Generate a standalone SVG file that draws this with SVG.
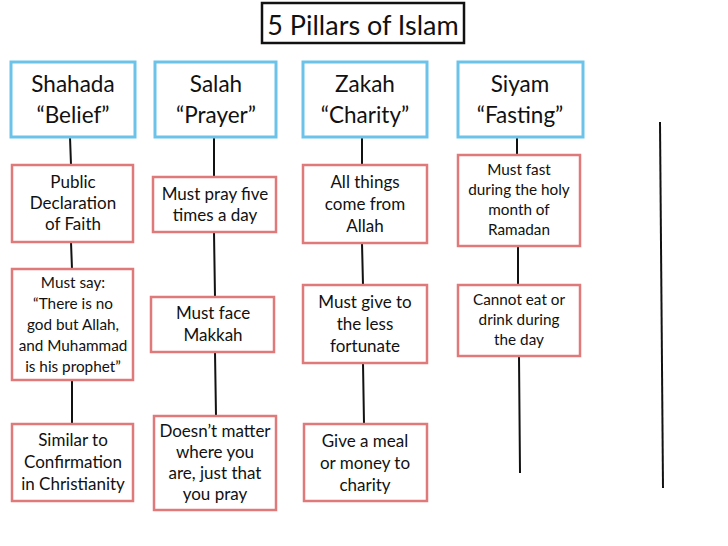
<svg xmlns="http://www.w3.org/2000/svg" width="728" height="546" viewBox="0 0 728 546">
<style>
.t{font-family:Lato,"Open Sans","Liberation Sans",sans-serif;fill:#111;text-anchor:middle}
.h{font-size:22.5px}
.b{font-size:17px}
.s{font-size:15.3px}
.blue{fill:#fff;stroke:#6cc3ea;stroke-width:3}
.red{fill:#fff;stroke:#e07a7a;stroke-width:2.5}
.ln{stroke:#111;stroke-width:2;fill:none}
</style>
<rect width="728" height="546" fill="#fff"/>
<g id="connectors">
<path class="ln" d="M70 137 L71 165 M71 242 L72 269 M72 380 L72 424"/>
<path class="ln" d="M214 137 L214 177 M214 232 L215 297 M215 352 L216 416"/>
<path class="ln" d="M362 137 L362 165 M362 243 L363 285 M363 363 L364 424"/>
<path class="ln" d="M517 137 L517 155 M518 246 L518 285 M519 356 L520 473"/>
<path class="ln" d="M660 122 L663 488"/>
</g>
<g id="title">
<rect x="262" y="3" width="202" height="40" fill="#fff" stroke="#111" stroke-width="2.5"/>
<text class="t" x="363" y="35" font-size="27">5 Pillars of Islam</text>
</g>
<g id="shahada">
<rect class="blue" x="11" y="62" width="124" height="75"/>
<text class="t h" x="73" y="92">Shahada</text>
<text class="t h" x="73" y="123">“Belief”</text>
</g>
<g id="salah">
<rect class="blue" x="155" y="62" width="121" height="75"/>
<text class="t h" x="216" y="92">Salah</text>
<text class="t h" x="216" y="123">“Prayer”</text>
</g>
<g id="zakah">
<rect class="blue" x="303" y="62" width="124" height="75"/>
<text class="t h" x="365" y="92">Zakah</text>
<text class="t h" x="365" y="123">“Charity”</text>
</g>
<g id="siyam">
<rect class="blue" x="458" y="62" width="125" height="75"/>
<text class="t h" x="520" y="92">Siyam</text>
<text class="t h" x="520" y="123">“Fasting”</text>
</g>
<g id="s1">
<rect class="red" x="12" y="165" width="121" height="77"/>
<text class="t b" x="73" y="188">Public</text>
<text class="t b" x="73" y="209">Declaration</text>
<text class="t b" x="73" y="230">of Faith</text>
</g>
<g id="s2">
<rect class="red" x="12" y="269" width="121" height="111"/>
<text class="t s" x="73" y="288">Must say:</text>
<text class="t s" x="73" y="309">“There is no</text>
<text class="t s" x="73" y="330">god but Allah,</text>
<text class="t s" x="73" y="351">and Muhammad</text>
<text class="t s" x="73" y="372">is his prophet”</text>
</g>
<g id="s3">
<rect class="red" x="12" y="424" width="121" height="77"/>
<text class="t b" x="73" y="446">Similar to</text>
<text class="t b" x="73" y="468">Confirmation</text>
<text class="t b" x="73" y="490">in Christianity</text>
</g>
<g id="p1">
<rect class="red" x="153" y="177" width="123" height="55"/>
<text class="t b" x="215" y="200">Must pray five</text>
<text class="t b" x="215" y="221">times a day</text>
</g>
<g id="p2">
<rect class="red" x="151" y="297" width="123" height="55"/>
<text class="t b" x="213" y="319">Must face</text>
<text class="t b" x="213" y="341">Makkah</text>
</g>
<g id="p3">
<rect class="red" x="154" y="416" width="122" height="94"/>
<text class="t b" x="215" y="437">Doesn’t matter</text>
<text class="t b" x="215" y="458">where you</text>
<text class="t b" x="215" y="479">are, just that</text>
<text class="t b" x="215" y="500">you pray</text>
</g>
<g id="z1">
<rect class="red" x="303" y="165" width="124" height="78"/>
<text class="t b" x="365" y="188">All things</text>
<text class="t b" x="365" y="210">come from</text>
<text class="t b" x="365" y="232">Allah</text>
</g>
<g id="z2">
<rect class="red" x="303" y="285" width="124" height="78"/>
<text class="t b" x="365" y="308">Must give to</text>
<text class="t b" x="365" y="330">the less</text>
<text class="t b" x="365" y="352">fortunate</text>
</g>
<g id="z3">
<rect class="red" x="304" y="424" width="123" height="77"/>
<text class="t b" x="365" y="447">Give a meal</text>
<text class="t b" x="365" y="469">or money to</text>
<text class="t b" x="365" y="491">charity</text>
</g>
<g id="f1">
<rect class="red" x="458" y="155" width="122" height="91"/>
<text class="t s" x="519" y="175">Must fast</text>
<text class="t s" x="519" y="195">during the holy</text>
<text class="t s" x="519" y="215">month of</text>
<text class="t s" x="519" y="235">Ramadan</text>
</g>
<g id="f2">
<rect class="red" x="458" y="285" width="122" height="71"/>
<text class="t s" x="519" y="305">Cannot eat or</text>
<text class="t s" x="519" y="325">drink during</text>
<text class="t s" x="519" y="345">the day</text>
</g>
</svg>
